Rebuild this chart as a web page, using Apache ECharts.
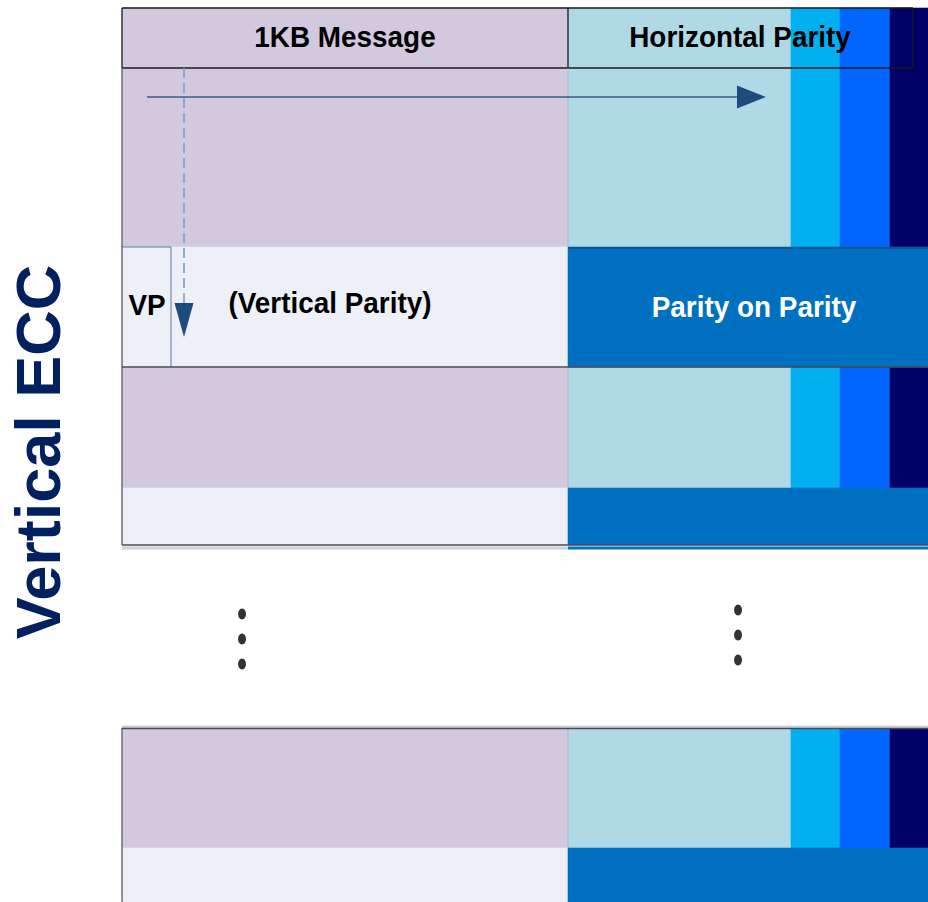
<!DOCTYPE html>
<html>
<head>
<meta charset="utf-8">
<script src="https://cdn.jsdelivr.net/npm/echarts@6/dist/echarts.min.js"></script>
<style>html,body{margin:0;padding:0;background:#fff}#c{width:928px;height:902px}</style>
</head>
<body>
<div id="c"></div>
<script>
// ---- diagram data (in diagram units; axes map them to the page) ----
const columnNames = ['1KB Message', 'Horizontal Parity', 'HP stripe 1', 'HP stripe 2', 'HP stripe 3'];
const columnStart = [122, 568, 791, 840, 890];
const columnEnd   = [568, 791, 840, 890, 928];
const dataRowStart   = [8, 367, 728];
const dataRowEnd     = [247, 488, 848];
const parityRowStart = [247, 488, 848];
const parityRowEnd   = [367, 545, 902];
const vpBox = [122, 171, 247, 367];
const headerBox = [122, 913, 8, 68];
const headerDivider = 568;
const labelTexts = ['1KB Message', 'Horizontal Parity', 'VP', '(Vertical Parity)', 'Parity on Parity'];
const labelX = [345, 740, 147, 330, 754];
const labelY = [37, 37, 305, 303, 307];
const sideTitle = 'Vertical ECC';
const sideTitleX = 38, sideTitleY = 452;
const dotsX = [242, 242, 242, 738, 738, 738];
const dotsY = [614, 639, 664, 610, 635, 660];
const hArrow = [147, 97, 766, 97];
const vArrow = [184, 68, 184, 337];

// ---- styles ----
const fills = ['#D2C9DF', '#B0D9E6', '#00B0F0', '#0066FF', '#000066', '#EDF0F6', '#0070C0'];
const narrowFont = '"Liberation Sans", Arial, sans-serif';

// build cells
const cells = [];
for (let r = 0; r < dataRowStart.length; r++) {
  for (let c = 0; c < columnStart.length; c++) {
    cells.push([columnStart[c], columnEnd[c], dataRowStart[r], dataRowEnd[r], c]);
  }
}
for (let r = 0; r < parityRowStart.length; r++) {
  cells.push([columnStart[0], columnEnd[0], parityRowStart[r], parityRowEnd[r], 5]);
  cells.push([columnStart[1], columnEnd[4], parityRowStart[r], parityRowEnd[r], 6]);
}

// outline segments [x0,y0,x1,y1,styleIndex]
const lineStyles = [
  {stroke: '#1a1a1a', lineWidth: 1.3},
  {stroke: '#6e6e7e', lineWidth: 1.5},
  {stroke: '#4a4a55', lineWidth: 1.6},
  {stroke: '#1c3a66', lineWidth: 1},
  {stroke: '#d0d0d8', lineWidth: 3},
  {stroke: '#0070C0', lineWidth: 3},
  {stroke: '#b0a8c4', lineWidth: 0.8},
  {stroke: '#5b7ba5', lineWidth: 1}
];
const segs = [
  [headerBox[0], headerBox[2], headerBox[1], headerBox[2], 0],
  [headerBox[0], headerBox[3], headerBox[1], headerBox[3], 0],
  [headerBox[0], headerBox[2], headerBox[0], headerBox[3], 0],
  [headerBox[1], headerBox[2], headerBox[1], headerBox[3], 0],
  [headerDivider, headerBox[2], headerDivider, headerBox[3], 0],
  [columnEnd[0], 68, columnEnd[0], 247, 6],
  [columnEnd[0], 367, columnEnd[0], 488, 6],
  [columnEnd[0], 728, columnEnd[0], 848, 6],
  [122, 68, 122, 545, 1],
  [122, 728, 122, 902, 1],
  [122, 548, 568, 548, 4],
  [568, 548, 928, 548, 5],
  [122, 367, 928, 367, 2],
  [122, 545, 928, 545, 2],
  [122, 727, 928, 727, 4],
  [122, 728.5, 928, 728.5, 2],
  [568, 248, 928, 248, 3],
  [vpBox[0], vpBox[2], vpBox[1], vpBox[2], 7],
  [vpBox[1], vpBox[2], vpBox[1], vpBox[3], 7]
];

const chart = echarts.init(document.getElementById('c'), null, {renderer: 'svg'});

function renderCell(params, api) {
  const p0 = api.coord([api.value(0), api.value(2)]);
  const p1 = api.coord([api.value(1), api.value(3)]);
  const f = fills[api.value(4)];
  return {type: 'rect', shape: {x: p0[0], y: p0[1], width: p1[0] - p0[0], height: p1[1] - p0[1]},
    style: {fill: f, stroke: f, lineWidth: 0.6}};
}
function renderSeg(params, api) {
  const p0 = api.coord([api.value(0), api.value(1)]);
  const p1 = api.coord([api.value(2), api.value(3)]);
  const s = lineStyles[api.value(4)];
  return {type: 'line', shape: {x1: p0[0], y1: p0[1], x2: p1[0], y2: p1[1]},
    style: {stroke: s.stroke, lineWidth: s.lineWidth}};
}
function renderArrow(params, api) {
  const p0 = api.coord([api.value(0), api.value(1)]);
  const p1 = api.coord([api.value(2), api.value(3)]);
  const dashed = api.value(4) === 1;
  const dx = p1[0] - p0[0], dy = p1[1] - p0[1];
  const len = Math.sqrt(dx * dx + dy * dy);
  const ux = dx / len, uy = dy / len;
  const headL = dashed ? 34 : 29, headW = dashed ? 9.5 : 11.5;
  const bx = p1[0] - ux * headL, by = p1[1] - uy * headL;
  return {type: 'group', children: [
    {type: 'line', shape: {x1: p0[0], y1: p0[1], x2: bx, y2: by},
      style: dashed ? {stroke: '#7f9cc4', lineWidth: 1.6, lineDash: [10, 5]} : {stroke: '#3b5a86', lineWidth: 1.3}},
    {type: 'polygon', shape: {points: [[p1[0], p1[1]], [bx - uy * headW, by + ux * headW], [bx + uy * headW, by - ux * headW]]},
      style: {fill: '#1F4A7E'}}
  ]};
}
function renderLabel(params, api) {
  const i = params.dataIndex;
  const p = api.coord([api.value(0), api.value(1)]);
  return {type: 'text', x: p[0], y: p[1], scaleX: 0.93,
    style: {text: labelTexts[i], fill: i === 4 ? '#ffffff' : '#000000',
      font: 'bold 30px ' + narrowFont, align: 'center', verticalAlign: 'middle'}};
}
function renderSide(params, api) {
  const p = api.coord([api.value(0), api.value(1)]);
  return {type: 'text', x: p[0], y: p[1], rotation: Math.PI / 2,
    style: {text: sideTitle, fill: '#002060', font: 'bold 63px "Liberation Sans", Arial, sans-serif',
      align: 'center', verticalAlign: 'middle'}};
}

chart.setOption({
  animation: false,
  grid: {left: 0, right: 0, top: 0, bottom: 0},
  xAxis: {type: 'value', min: 0, max: 928, show: false},
  yAxis: {type: 'value', min: 0, max: 902, inverse: true, show: false},
  series: [
    {type: 'custom', renderItem: renderCell, data: cells, encode: {x: [0, 1], y: [2, 3]}, silent: true},
    {type: 'custom', renderItem: renderSeg, data: segs, encode: {x: [0, 2], y: [1, 3]}, silent: true},
    {type: 'custom', renderItem: renderArrow, data: [hArrow.concat([0]), vArrow.concat([1])], encode: {x: [0, 2], y: [1, 3]}, silent: true},
    {type: 'custom', renderItem: renderLabel, data: labelTexts.map((t, i) => [labelX[i], labelY[i]]), encode: {x: 0, y: 1}, silent: true},
    {type: 'custom', renderItem: renderSide, data: [[sideTitleX, sideTitleY]], encode: {x: 0, y: 1}, silent: true},
    {type: 'scatter', data: dotsX.map((x, i) => [x, dotsY[i]]), symbol: 'circle', symbolSize: [8, 11],
      itemStyle: {color: '#000'}, silent: true}
  ]
});
</script>
</body>
</html>
